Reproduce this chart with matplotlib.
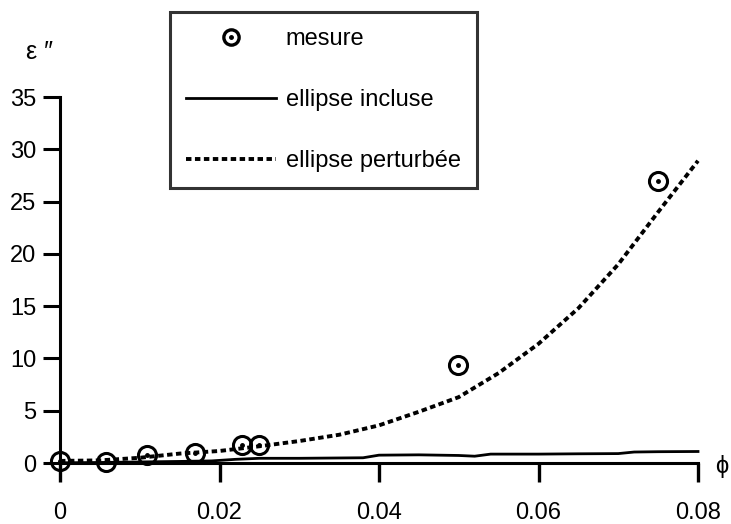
import matplotlib
matplotlib.use("Agg")
import matplotlib.pyplot as plt
from matplotlib.lines import Line2D

plt.rcParams['font.family'] = ['Liberation Sans', 'DejaVu Sans']

# Measured points
mes_x = [0.0, 0.0058, 0.0109, 0.0169, 0.0228, 0.0249, 0.0499, 0.075]
mes_y = [0.2, 0.1, 0.8, 1.0, 1.7, 1.7, 9.4, 27.0]

# ellipse incluse (solid)
inc_x = [0.0, 0.005, 0.01, 0.015, 0.019, 0.022, 0.025, 0.03, 0.038, 0.040, 0.045, 0.05, 0.052, 0.054, 0.06, 0.065, 0.07, 0.072, 0.075, 0.08]
inc_y = [0.02, 0.05, 0.1, 0.15, 0.2, 0.35, 0.45, 0.45, 0.5, 0.75, 0.78, 0.72, 0.65, 0.85, 0.85, 0.88, 0.9, 1.05, 1.08, 1.1]

# ellipse perturbée (dotted)
per_x = [0.0, 0.005, 0.01, 0.015, 0.02, 0.025, 0.03, 0.035, 0.04, 0.045, 0.05, 0.055, 0.06, 0.065, 0.07, 0.075, 0.08]
per_y = [0.2, 0.25, 0.5, 0.9, 1.15, 1.6, 2.1, 2.7, 3.6, 4.9, 6.3, 8.6, 11.4, 14.8, 19.0, 24.0, 28.9]

x_ticks = [0, 0.02, 0.04, 0.06, 0.08]
x_ticklabels = ['0', '0.02', '0.04', '0.06', '0.08']
y_ticks = [0, 5, 10, 15, 20, 25, 30, 35]

FS = 17
fig = plt.figure(figsize=(7.31, 5.24), dpi=100)
ax = fig.add_axes([60/731, 1-463/524, (698-60)/731, (463-97)/524])

ax.plot(inc_x, inc_y, color='black', lw=2.0, clip_on=False)
ax.plot(per_x, per_y, color='black', lw=2.8, linestyle=(0, (1.4, 0.9)), clip_on=False)
ax.plot(mes_x, mes_y, linestyle='none', marker='o', markersize=13, mfc='none',
        mec='black', mew=2.2, clip_on=False, zorder=5)
ax.plot(mes_x, mes_y, linestyle='none', marker='o', markersize=2.5, color='black',
        clip_on=False, zorder=6)

ax.set_xlim(0, 0.08)
ax.set_ylim(0, 35)
for s in ['top', 'right']:
    ax.spines[s].set_visible(False)
for s in ['left', 'bottom']:
    ax.spines[s].set_linewidth(2.2)
ax.set_xticks(x_ticks)
ax.set_xticklabels(x_ticklabels)
ax.set_yticks(y_ticks)
ax.tick_params(axis='x', direction='out', length=14, width=2.4, pad=14, labelsize=FS)
ax.tick_params(axis='y', direction='out', length=12, width=2.2, pad=5, labelsize=FS)

fig.text(26/731, 1-52/524, "ε \u2033", fontsize=18, ha='left', va='center')
fig.text(722/731, 1-467/524, "ϕ", fontsize=FS, ha='center', va='center')

h_mes = Line2D([], [], linestyle='none', marker='o', markersize=11, mfc='none',
               mec='black', mew=2.4)
h_dot = Line2D([], [], linestyle='none', marker='o', markersize=2.5, color='black')
h_inc = Line2D([], [], color='black', lw=2.0)
h_per = Line2D([], [], color='black', lw=2.8, linestyle=(0, (1.4, 0.9)))
leg = fig.legend([(h_mes, h_dot), h_inc, h_per],
                 ['mesure', 'ellipse incluse', 'ellipse perturbée'],
                 loc='upper left', bbox_to_anchor=(170/731, 1-12/524),
                 fontsize=FS, frameon=True, fancybox=False, handlelength=3.8,
                 handletextpad=0.42, labelspacing=1.66, borderpad=0.68,
                 borderaxespad=0)
leg.get_frame().set_edgecolor('black')
leg.get_frame().set_linewidth(2.2)

fig.savefig('out.png', dpi=100)
